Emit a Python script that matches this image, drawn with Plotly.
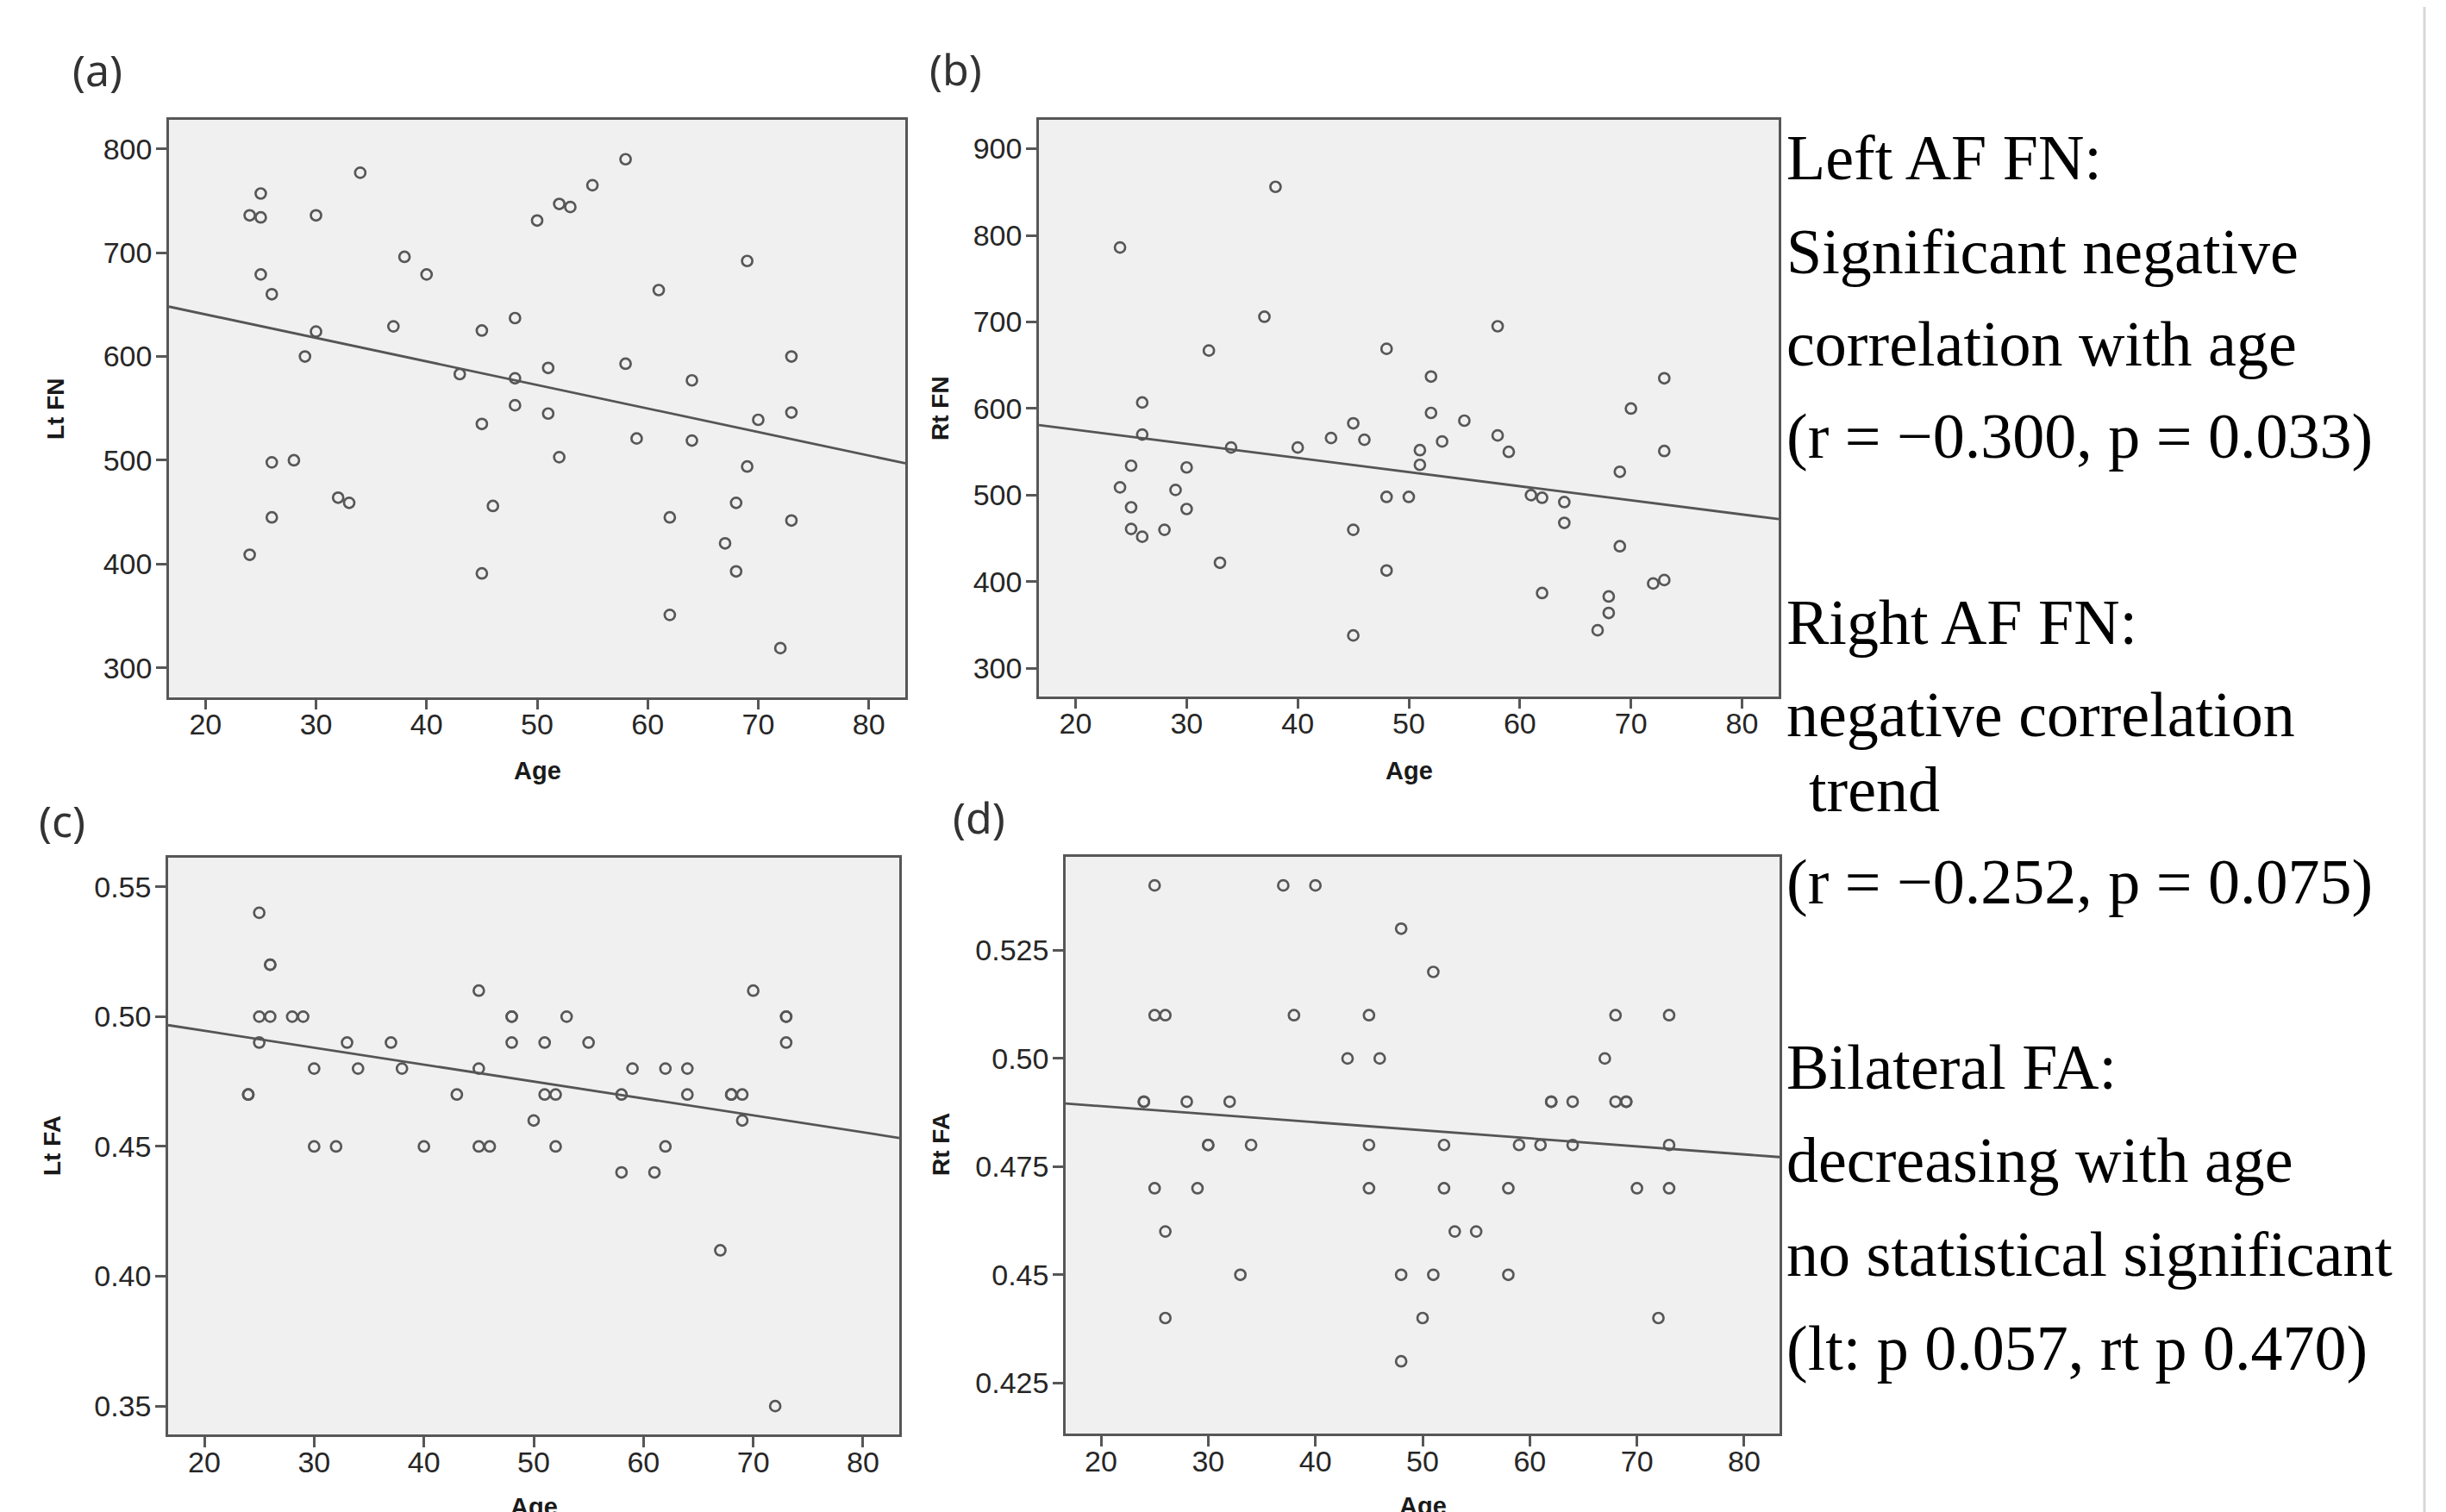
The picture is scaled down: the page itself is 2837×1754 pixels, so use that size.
import plotly.graph_objects as go

W, H = 2837, 1754

# ---------------- data ----------------
age_ticks = [20, 30, 40, 50, 60, 70, 80]

lt_fn_age = [24, 25, 25, 25, 26, 26, 26, 24, 28, 29, 30, 30, 32, 33, 34, 37, 38, 40, 43,
             45, 45, 45, 46, 48, 48, 48, 50, 51, 51, 52, 53, 52, 55, 58, 58, 59, 61,
             62, 62, 64, 64, 67, 68, 68, 69, 69, 70, 72, 73, 73, 73]
lt_fn = [736, 757, 734, 679, 660, 498, 445, 409, 500, 600, 736, 624, 464, 459, 777, 629, 696, 679, 583,
         625, 535, 391, 456, 637, 579, 553, 731, 589, 545, 747, 744, 503, 765, 790, 593, 521, 664,
         445, 351, 577, 519, 420, 459, 393, 692, 494, 539, 319, 600, 546, 442]
lt_fn_fit = [685.9, -2.267]          # intercept, slope
lt_fn_ticks = [300, 400, 500, 600, 700, 800]

rt_fn_age = [24, 24, 25, 25, 25, 26, 26, 26, 28, 29, 30, 30, 32, 33, 34, 37, 38, 40, 43,
             45, 45, 45, 46, 48, 48, 48, 50, 51, 51, 52, 52, 53, 55, 58, 58, 59, 61,
             62, 62, 64, 64, 67, 68, 68, 69, 69, 70, 72, 73, 73, 73]
rt_fn = [786, 509, 534, 486, 461, 607, 570, 452, 460, 506, 532, 484, 667, 422, 555, 706, 856, 555, 566,
         583, 460, 338, 564, 669, 498, 413, 498, 552, 535, 637, 595, 562, 586, 695, 569, 550, 500,
         497, 387, 492, 468, 344, 383, 364, 527, 441, 600, 398, 402, 551, 635]
rt_fn_fit = [608.2, -1.631]
rt_fn_ticks = [300, 400, 500, 600, 700, 800, 900]

fa_age = [24, 24, 25, 25, 25, 26, 26, 26, 28, 29, 30, 30, 32, 33, 34, 37, 38, 40, 43,
          45, 45, 45, 46, 48, 48, 48, 50, 51, 51, 52, 52, 53, 55, 58, 58, 59, 61,
          62, 62, 64, 64, 67, 68, 68, 69, 69, 70, 72, 73, 73, 73]
lt_fa = [0.47, 0.47, 0.54, 0.50, 0.49, 0.52, 0.52, 0.50, 0.50, 0.50, 0.48, 0.45, 0.45, 0.49, 0.48, 0.49, 0.48, 0.45, 0.47,
         0.51, 0.48, 0.45, 0.45, 0.50, 0.50, 0.49, 0.46, 0.49, 0.47, 0.47, 0.45, 0.50, 0.49, 0.47, 0.44, 0.48, 0.44,
         0.48, 0.45, 0.48, 0.47, 0.41, 0.47, 0.47, 0.47, 0.46, 0.51, 0.35, 0.50, 0.50, 0.49]
lt_fa_fit = [0.5076, -0.000652]
lt_fa_ticks = [0.35, 0.40, 0.45, 0.50, 0.55]
lt_fa_ticktext = ["0.35", "0.40", "0.45", "0.50", "0.55"]

rt_fa = [0.49, 0.49, 0.54, 0.51, 0.47, 0.51, 0.46, 0.44, 0.49, 0.47, 0.48, 0.48, 0.49, 0.45, 0.48, 0.54, 0.51, 0.54, 0.50,
         0.51, 0.48, 0.47, 0.50, 0.53, 0.45, 0.43, 0.44, 0.52, 0.45, 0.48, 0.47, 0.46, 0.46, 0.47, 0.45, 0.48, 0.48,
         0.49, 0.49, 0.49, 0.48, 0.50, 0.51, 0.49, 0.49, 0.49, 0.47, 0.44, 0.51, 0.48, 0.47]
rt_fa_fit = [0.4927, -0.000186]
rt_fa_ticks = [0.425, 0.45, 0.475, 0.50, 0.525]
rt_fa_ticktext = ["0.425", "0.45", "0.475", "0.50", "0.525"]

panel_labels = ["(a)", "(b)", "(c)", "(d)"]
y_titles = ["Lt FN", "Rt FN", "Lt FA", "Rt FA"]
x_title = "Age"

note_lines = [
    "Left AF FN:",
    "Significant negative",
    "correlation with age",
    "(r = \u22120.300, p = 0.033)",
    "Right AF FN:",
    "negative correlation",
    "trend",
    "(r = \u22120.252, p = 0.075)",
    "Bilateral FA:",
    "decreasing with age",
    "no statistical significant",
    "(lt: p 0.057, rt p 0.470)",
]

# ---------------- layout helpers ----------------
XR = [16.7, 83.3]
panels = [
    dict(x=lt_fn_age, y=lt_fn, fit=lt_fn_fit, yr=[272, 828], tv=lt_fn_ticks, tt=[str(v) for v in lt_fn_ticks],
         box=(188, 1042, 131, 800.5)),
    dict(x=rt_fn_age, y=rt_fn, fit=rt_fn_fit, yr=[268, 933.4], tv=rt_fn_ticks, tt=[str(v) for v in rt_fn_ticks],
         box=(1197, 2055, 131, 799.5)),
    dict(x=fa_age, y=lt_fa, fit=lt_fa_fit, yr=[0.3391, 0.5612], tv=lt_fa_ticks, tt=lt_fa_ticktext,
         box=(187, 1035, 987, 1656)),
    dict(x=fa_age, y=rt_fa, fit=rt_fa_fit, yr=[0.4133, 0.5467], tv=rt_fa_ticks, tt=rt_fa_ticktext,
         box=(1228, 2056, 985.5, 1655)),
]

GREY = "#575757"
TICKFONT = dict(family="Liberation Sans, Arial, sans-serif", size=34, color="#262626")

fig = go.Figure()
layout = dict(
    width=W, height=H, margin=dict(l=0, r=0, t=0, b=0),
    paper_bgcolor="white", plot_bgcolor="#f0f0f0", showlegend=False,
)

for i, p in enumerate(panels):
    n = "" if i == 0 else str(i + 1)
    xa, ya = "x" + n, "y" + n
    x0, x1, y0, y1 = p["box"]
    layout["xaxis" + n] = dict(
        domain=[x0 / W, x1 / W], range=XR, anchor=ya,
        tickmode="array", tickvals=age_ticks, ticktext=[str(v) for v in age_ticks],
        showline=True, mirror=True, linecolor=GREY, linewidth=2.5,
        ticks="outside", ticklen=12, tickwidth=2.5, tickcolor=GREY,
        ticklabelstandoff=-12,
        showgrid=False, zeroline=False, tickfont=TICKFONT,
    )
    layout["yaxis" + n] = dict(
        domain=[1 - y1 / H, 1 - y0 / H], range=p["yr"], anchor=xa,
        tickmode="array", tickvals=p["tv"], ticktext=p["tt"],
        showline=True, mirror=True, linecolor=GREY, linewidth=2.5,
        ticks="outside", ticklen=12, tickwidth=2.5, tickcolor=GREY,
        ticklabelstandoff=-2,
        showgrid=False, zeroline=False, tickfont=TICKFONT,
    )
    fig.add_trace(go.Scatter(
        x=p["x"], y=p["y"], mode="markers", xaxis=xa, yaxis=ya,
        marker=dict(symbol="circle-open", size=12, color=GREY, line=dict(width=2.7, color=GREY)),
        hoverinfo="skip",
    ))
    b, m = p["fit"]
    fig.add_trace(go.Scatter(
        x=XR, y=[b + m * XR[0], b + m * XR[1]], mode="lines", xaxis=xa, yaxis=ya,
        line=dict(color="#555555", width=2.8), hoverinfo="skip",
    ))

annotations = []
# panel labels
label_pos = [(105, 73), (1100, 72), (64, 944), (1127, 940)]
for lab, (px, py) in zip(panel_labels, label_pos):
    annotations.append(dict(
        text=lab, x=px / W, y=1 - py / H, xref="paper", yref="paper",
        xanchor="center", yanchor="middle", showarrow=False,
        font=dict(family="Noto Sans, Liberation Sans, sans-serif", size=50, color="#333333"),
    ))
# y axis titles
ytitle_pos = [(57, 466), (1083, 466), (52, 1321), (1083, 1320)]
for t, (px, py) in zip(y_titles, ytitle_pos):
    annotations.append(dict(
        text="<b>%s</b>" % t, x=px / W, y=1 - py / H, xref="paper", yref="paper",
        xanchor="center", yanchor="middle", showarrow=False, textangle=-90,
        font=dict(family="Liberation Sans, Arial, sans-serif", size=28, color="#1a1a1a"),
    ))
# x axis titles
xtitle_pos = [(615, 886), (1626, 886), (611, 1740), (1642, 1739)]
for (px, py) in xtitle_pos:
    annotations.append(dict(
        text="<b>%s</b>" % x_title, x=px / W, y=1 - py / H, xref="paper", yref="paper",
        xanchor="center", yanchor="middle", showarrow=False,
        font=dict(family="Liberation Sans, Arial, sans-serif", size=29, color="#1a1a1a"),
    ))
# right-hand notes
note_y = [175, 284, 391, 498, 714, 821, 908, 1015, 1230, 1338, 1447, 1556]
note_x = [2062, 2062, 2062, 2062, 2062, 2062, 2088, 2062, 2062, 2062, 2062, 2062]
for t, px, py in zip(note_lines, note_x, note_y):
    annotations.append(dict(
        text=t, x=px / W, y=1 - py / H, xref="paper", yref="paper",
        xanchor="left", yanchor="middle", showarrow=False,
        font=dict(family="Liberation Serif, Times New Roman, serif", size=74, color="#000000"),
    ))
layout["annotations"] = annotations
layout["shapes"] = [dict(type="line", xref="paper", yref="paper", x0=2804 / W, x1=2804 / W, y0=0, y1=1,
                         line=dict(color="#d8d8d8", width=3))]

fig.update_layout(**layout)
fig.write_html("out.html")
